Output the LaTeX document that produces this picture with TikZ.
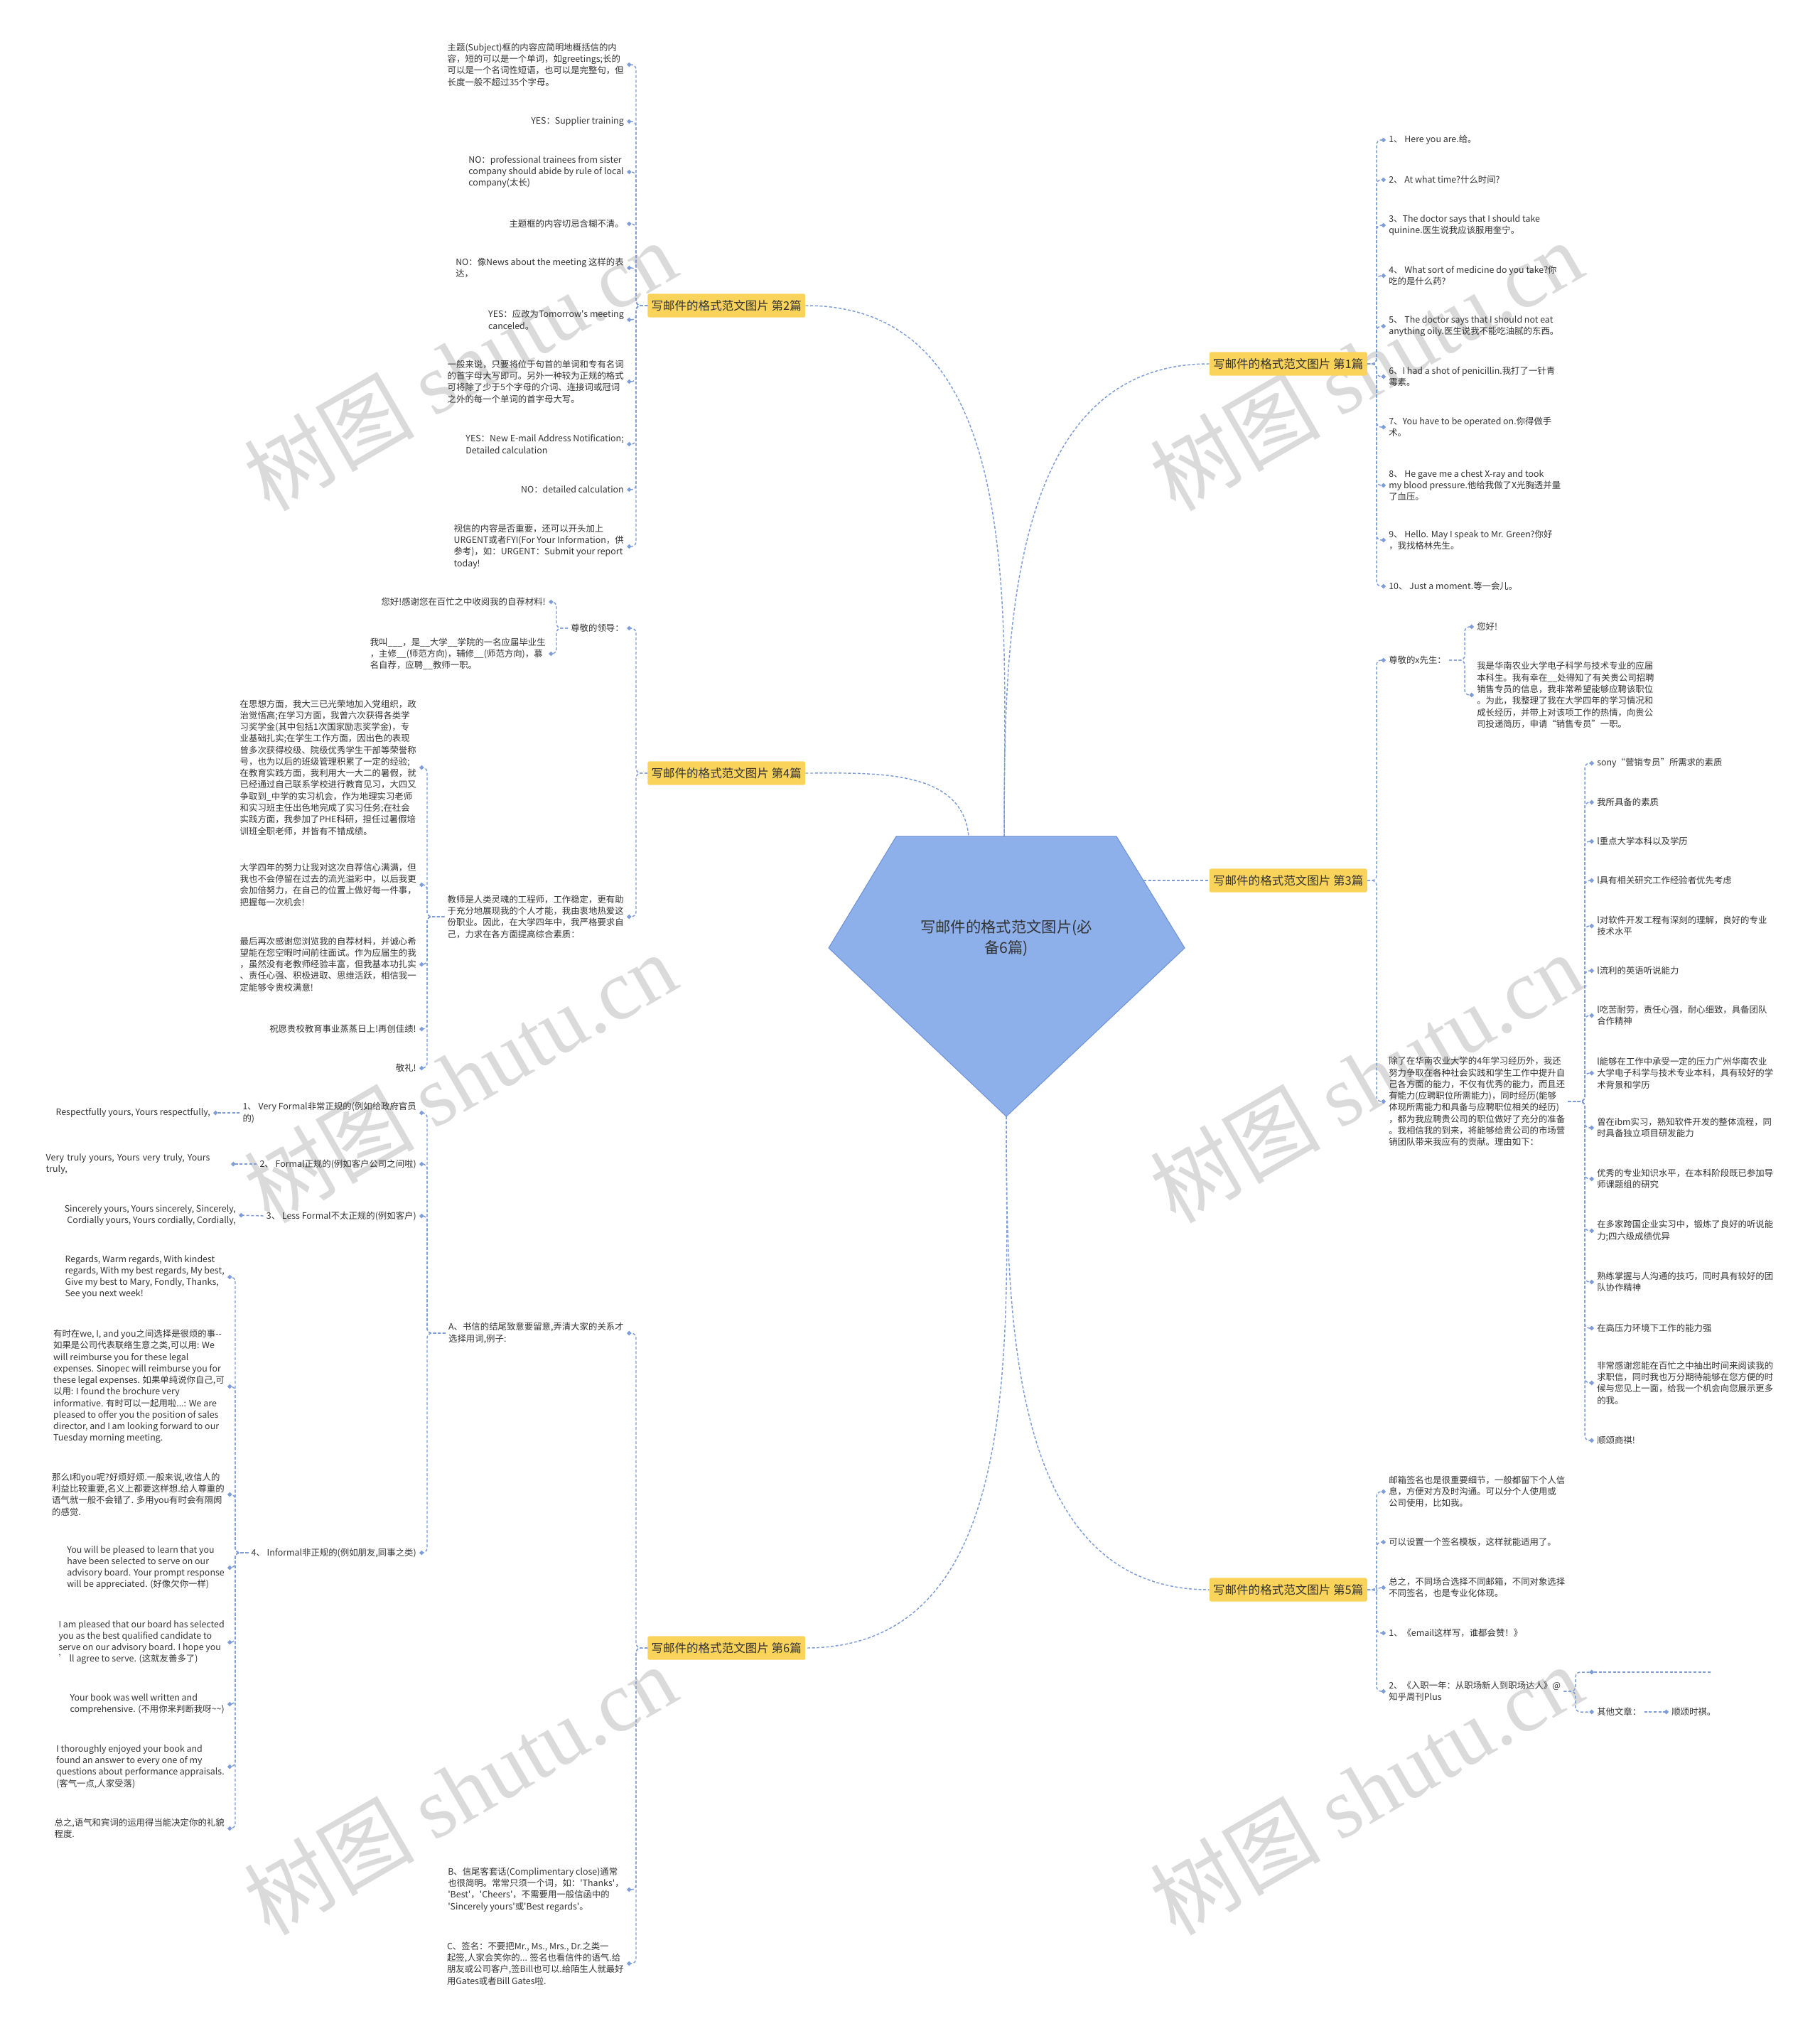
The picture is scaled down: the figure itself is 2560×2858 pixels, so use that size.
\documentclass[tikz,border=0pt]{standalone}
\usepackage{fontspec}
\setmainfont{Noto Sans CJK SC}
\newfontfamily\wmfont{Liberation Serif}
\usetikzlibrary{arrows.meta}
\definecolor{LinkBlue}{HTML}{7E9DD8}
\definecolor{SoftYellow}{HTML}{FAD35B}
\definecolor{CoreBlue}{HTML}{8EB0EA}
\definecolor{CoreEdge}{HTML}{6F92D8}
\definecolor{InkGray}{HTML}{333333}
\definecolor{MarkGray}{HTML}{DADADA}

\begin{document}
\begin{tikzpicture}[x=0.75pt,y=-0.75pt,
    leaf/.style={font=\fontsize{9.3}{12.2}\selectfont,text=InkGray,align=left,inner sep=3pt},
    topic/.style={fill=SoftYellow,rounded corners=2pt,text=InkGray,font=\fontsize{12.4}{14}\selectfont,minimum height=25pt,inner xsep=4pt},
    trunk/.style={draw=LinkBlue,line width=1.1pt,dash pattern=on 3pt off 2pt},
    link/.style={trunk,rounded corners=5pt,-{Turned Square[length=5pt,width=5pt]}},
    wmark/.style={text=MarkGray,rotate=30,font=\fontsize{90}{90}\selectfont}]
  \path[fill=white] (0,0) rectangle (2560,2858);
  % watermarks
  \foreach \wx/\wy [count=\i] in {647/514,1922/514,647/1516,1922/1516,647/2518,1922/2518}
    \node[wmark] (wm\i) at (\wx,\wy) {树图 {\wmfont shutu.cn}};

  % centre
  \coordinate (pt) at (1413,1177);
  \coordinate (ptl) at (1363,1177);
  \coordinate (pb) at (1416,1571);
  \coordinate (pr) at (1609,1239);

  \node[topic,anchor=west] (b2) at (911,430) {写邮件的格式范文图片 第2篇};
  \node[topic,anchor=west] (b4) at (911,1088) {写邮件的格式范文图片 第4篇};
  \node[topic,anchor=west] (b6) at (911,2319) {写邮件的格式范文图片 第6篇};
  \node[topic,anchor=east] (b1) at (1924,512) {写邮件的格式范文图片 第1篇};
  \node[topic,anchor=east] (b3) at (1924,1239) {写邮件的格式范文图片 第3篇};
  \node[topic,anchor=east] (b5) at (1924,2237) {写邮件的格式范文图片 第5篇};

  \draw[trunk] (b2.east) to[out=0,in=90] (pt);
  \draw[trunk] (b4.east) to[out=0,in=95] (ptl);
  \draw[trunk] (b1.west) to[out=180,in=90] (pt);
  \draw[trunk] (pr) -- (b3.west);
  \draw[trunk] (pb) to[out=-90,in=180] (b5.west);
  \draw[trunk] (pb) to[out=-90,in=0] (b6.east);

  \draw[fill=CoreBlue,draw=CoreEdge,line width=0.8pt] (1261,1177) -- (1571,1177) -- (1667,1334) -- (1416,1571) -- (1166,1334) -- cycle;
  \node[font=\fontsize{16}{22}\selectfont,text=InkGray,align=center] (c) at (1416,1320) {写邮件的格式范文图片(必\\备6篇)};

  % 第2篇
  \coordinate (k2) at (895,430);
  \node[leaf,anchor=east] (l21) at (882,91) {主题(Subject)框的内容应简明地概括信的内\\容，短的可以是一个单词，如greetings;长的\\可以是一个名词性短语，也可以是完整句，但\\长度一般不超过35个字母。};
  \node[leaf,anchor=east] (l22) at (882,171) {YES：Supplier training};
  \node[leaf,anchor=east] (l23) at (882,242) {NO：professional trainees from sister\\company should abide by rule of local\\company(太长)};
  \node[leaf,anchor=east] (l24) at (882,315) {主题框的内容切忌含糊不清。};
  \node[leaf,anchor=east] (l25) at (882,377) {NO：像News about the meeting 这样的表\\达，};
  \node[leaf,anchor=east] (l26) at (882,450) {YES：应改为Tomorrow\textquotesingle s meeting\\canceled。};
  \node[leaf,anchor=east] (l27) at (882,537) {一般来说，只要将位于句首的单词和专有名词\\的首字母大写即可。另外一种较为正规的格式\\可将除了少于5个字母的介词、连接词或冠词\\之外的每一个单词的首字母大写。};
  \node[leaf,anchor=east] (l28) at (882,625) {YES：New E-mail Address Notification;\\Detailed calculation};
  \node[leaf,anchor=east] (l29) at (882,689) {NO：detailed calculation};
  \node[leaf,anchor=east] (l2a) at (882,769) {视信的内容是否重要，还可以开头加上\\URGENT或者FYI(For Your Information，供\\参考)，如：URGENT：Submit your report\\today!};
  \foreach \n in {l21,l22,l23,l24,l25,l26,l27,l28,l29,l2a}
    \draw[link] (b2.west) -- (k2) |- (\n.east);

  % 第4篇
  \coordinate (k4) at (895,1088);
  \node[leaf,anchor=east] (l41) at (882,884) {尊敬的领导：};
  \node[leaf,anchor=east] (l42) at (882,1290) {教师是人类灵魂的工程师，工作稳定，更有助\\于充分地展现我的个人才能，我由衷地热爱这\\份职业。因此，在大学四年中，我严格要求自\\己，力求在各方面提高综合素质：};
  \draw[link] (b4.west) -- (k4) |- (l41.east);
  \draw[link] (b4.west) -- (k4) |- (l42.east);
  \coordinate (k41) at (783,884);
  \node[leaf,anchor=east] (l411) at (772,847) {您好!感谢您在百忙之中收阅我的自荐材料!};
  \node[leaf,anchor=east] (l412) at (772,920) {我叫\_\_\_，是\_\_大学\_\_学院的一名应届毕业生\\，主修\_\_(师范方向)，辅修\_\_(师范方向)，慕\\名自荐，应聘\_\_教师一职。};
  \draw[link] (l41.west) -- (k41) |- (l411.east);
  \draw[link] (l41.west) -- (k41) |- (l412.east);
  \coordinate (k42) at (601,1290);
  \node[leaf,anchor=east] (l421) at (590,1080) {在思想方面，我大三已光荣地加入党组织，政\\治觉悟高;在学习方面，我曾六次获得各类学\\习奖学金(其中包括1次国家励志奖学金)，专\\业基础扎实;在学生工作方面，因出色的表现\\曾多次获得校级、院级优秀学生干部等荣誉称\\号，也为以后的班级管理积累了一定的经验;\\在教育实践方面，我利用大一大二的暑假，就\\已经通过自己联系学校进行教育见习，大四又\\争取到\_中学的实习机会，作为地理实习老师\\和实习班主任出色地完成了实习任务;在社会\\实践方面，我参加了PHE科研，担任过暑假培\\训班全职老师，并皆有不错成绩。};
  \node[leaf,anchor=east] (l422) at (590,1245) {大学四年的努力让我对这次自荐信心满满，但\\我也不会停留在过去的流光溢彩中，以后我更\\会加倍努力，在自己的位置上做好每一件事，\\把握每一次机会!};
  \node[leaf,anchor=east] (l423) at (590,1357) {最后再次感谢您浏览我的自荐材料，并诚心希\\望能在您空暇时间前往面试。作为应届生的我\\，虽然没有老教师经验丰富，但我基本功扎实\\、责任心强、积极进取、思维活跃，相信我一\\定能够令贵校满意!};
  \node[leaf,anchor=east] (l424) at (590,1448) {祝愿贵校教育事业蒸蒸日上!再创佳绩!};
  \node[leaf,anchor=east] (l425) at (590,1503) {敬礼!};
  \foreach \n in {l421,l422,l423,l424,l425}
    \draw[link] (l42.west) -- (k42) |- (\n.east);

  % 第6篇
  \coordinate (k6) at (895,2319);
  \node[leaf,anchor=east] (l6a) at (882,1876) {A、书信的结尾致意要留意,弄清大家的关系才\\选择用词,例子:};
  \node[leaf,anchor=east] (l6b) at (882,2659) {B、信尾客套话(Complimentary close)通常\\也很简明。常常只须一个词，如：\textquotesingle Thanks\textquotesingle，\\\textquotesingle Best\textquotesingle，\textquotesingle Cheers\textquotesingle，不需要用一般信函中的\\\textquotesingle Sincerely yours\textquotesingle 或\textquotesingle Best regards\textquotesingle。};
  \node[leaf,anchor=east] (l6c) at (882,2763) {C、签名：不要把Mr., Ms., Mrs., Dr.之类一\\起签,人家会笑你的... 签名也看信件的语气.给\\朋友或公司客户,签Bill也可以.给陌生人就最好\\用Gates或者Bill Gates啦.};
  \foreach \n in {l6a,l6b,l6c}
    \draw[link] (b6.west) -- (k6) |- (\n.east);
  \coordinate (k6a) at (601,1876);
  \node[leaf,anchor=east] (l6a1) at (590,1566) {1、 Very Formal非常正规的(例如给政府官员\\的)};
  \node[leaf,anchor=east] (l6a2) at (590,1638) {2、 Formal正规的(例如客户公司之间啦)};
  \node[leaf,anchor=east] (l6a3) at (590,1711) {3、 Less Formal不太正规的(例如客户)};
  \node[leaf,anchor=east] (l6a4) at (590,2185) {4、 Informal非正规的(例如朋友,同事之类)};
  \foreach \n in {l6a1,l6a2,l6a3,l6a4}
    \draw[link] (l6a.west) -- (k6a) |- (\n.east);
  \node[leaf,anchor=east] (l6a1x) at (300,1566) {Respectfully yours, Yours respectfully,};
  \node[leaf,anchor=east,text width=192pt] (l6a2x) at (325,1638) {Very truly yours, Yours very truly, Yours\\truly,};
  \node[leaf,anchor=east,align=right] (l6a3x) at (336,1710) {Sincerely yours, Yours sincerely, Sincerely,\\Cordially yours, Yours cordially, Cordially,};
  \draw[link] (l6a1.west) -- (l6a1x.east);
  \draw[link] (l6a2.west) -- (l6a2x.east);
  \draw[link] (l6a3.west) -- (l6a3x.east);
  \coordinate (k6a4) at (331,2185);
  \node[leaf,anchor=east] (l6a41) at (320,1797) {Regards, Warm regards, With kindest\\regards, With my best regards, My best,\\Give my best to Mary, Fondly, Thanks,\\See you next week!};
  \node[leaf,anchor=east] (l6a42) at (320,1951) {有时在we, I, and you之间选择是很烦的事-{}-\\如果是公司代表联络生意之类,可以用: We\\will reimburse you for these legal\\expenses. Sinopec will reimburse you for\\these legal expenses. 如果单纯说你自己,可\\以用: I found the brochure very\\informative. 有时可以一起用啦...: We are\\pleased to offer you the position of sales\\director, and I am looking forward to our\\Tuesday morning meeting.};
  \node[leaf,anchor=east] (l6a43) at (320,2103) {那么I和you呢?好烦好烦.一般来说,收信人的\\利益比较重要,名义上都要这样想.给人尊重的\\语气就一般不会错了. 多用you有时会有隔阂\\的感觉.};
  \node[leaf,anchor=east] (l6a44) at (320,2206) {You will be pleased to learn that you\\have been selected to serve on our\\advisory board. Your prompt response\\will be appreciated. (好像欠你一样)};
  \node[leaf,anchor=east] (l6a45) at (320,2311) {I am pleased that our board has selected\\you as the best qualified candidate to\\serve on our advisory board. I hope you\\’ ll agree to serve. (这就友善多了)};
  \node[leaf,anchor=east] (l6a46) at (320,2398) {Your book was well written and\\comprehensive. (不用你来判断我呀\textasciitilde\textasciitilde)};
  \node[leaf,anchor=east] (l6a47) at (320,2486) {I thoroughly enjoyed your book and\\found an answer to every one of my\\questions about performance appraisals.\\(客气一点,人家受落)};
  \node[leaf,anchor=east] (l6a48) at (320,2573) {总之,语气和宾词的运用得当能决定你的礼貌\\程度.};
  \foreach \n in {l6a41,l6a42,l6a43,l6a44,l6a45,l6a46,l6a47,l6a48}
    \draw[link] (l6a4.west) -- (k6a4) |- (\n.east);

  % 第1篇
  \coordinate (k1) at (1937,512);
  \node[leaf,anchor=west] (r11) at (1950,197) {1、 Here you are.给。};
  \node[leaf,anchor=west] (r12) at (1950,253) {2、 At what time?什么时间?};
  \node[leaf,anchor=west] (r13) at (1950,317) {3、The doctor says that I should take\\quinine.医生说我应该服用奎宁。};
  \node[leaf,anchor=west] (r14) at (1950,388) {4、 What sort of medicine do you take?你\\吃的是什么药?};
  \node[leaf,anchor=west] (r15) at (1950,459) {5、 The doctor says that I should not eat\\anything oily.医生说我不能吃油腻的东西。};
  \node[leaf,anchor=west] (r16) at (1950,530) {6、I had a shot of penicillin.我打了一针青\\霉素。};
  \node[leaf,anchor=west] (r17) at (1950,601) {7、You have to be operated on.你得做手\\术。};
  \node[leaf,anchor=west] (r18) at (1950,683) {8、 He gave me a chest X-ray and took\\my blood pressure.他给我做了X光胸透并量\\了血压。};
  \node[leaf,anchor=west] (r19) at (1950,760) {9、 Hello. May I speak to Mr. Green?你好\\，我找格林先生。};
  \node[leaf,anchor=west] (r1a) at (1950,825) {10、 Just a moment.等一会儿。};
  \foreach \n in {r11,r12,r13,r14,r15,r16,r17,r18,r19,r1a}
    \draw[link] (b1.east) -- (k1) |- (\n.west);

  % 第3篇
  \coordinate (k3) at (1937,1239);
  \node[leaf,anchor=west] (r31) at (1950,929) {尊敬的x先生：};
  \node[leaf,anchor=west] (r32) at (1950,1550) {除了在华南农业大学的4年学习经历外，我还\\努力争取在各种社会实践和学生工作中提升自\\己各方面的能力，不仅有优秀的能力，而且还\\有能力(应聘职位所需能力)，同时经历(能够\\体现所需能力和具备与应聘职位相关的经历)\\，都为我应聘贵公司的职位做好了充分的准备\\。我相信我的到来，将能够给贵公司的市场营\\销团队带来我应有的贡献。理由如下：};
  \draw[link] (b3.east) -- (k3) |- (r31.west);
  \draw[link] (b3.east) -- (k3) |- (r32.west);
  \coordinate (k31) at (2061,929);
  \node[leaf,anchor=west] (r311) at (2074,882) {您好!};
  \node[leaf,anchor=west] (r312) at (2074,978) {我是华南农业大学电子科学与技术专业的应届\\本科生。我有幸在\_\_处得知了有关贵公司招聘\\销售专员的信息，我非常希望能够应聘该职位\\。为此，我整理了我在大学四年的学习情况和\\成长经历，并带上对该项工作的热情，向贵公\\司投递简历，申请“销售专员”一职。};
  \draw[link] (r31.east) -- (k31) |- (r311.west);
  \draw[link] (r31.east) -- (k31) |- (r312.west);
  \coordinate (k32) at (2230,1550);
  \node[leaf,anchor=west] (r321) at (2243,1074) {sony“营销专员”所需求的素质};
  \node[leaf,anchor=west] (r322) at (2243,1129) {我所具备的素质};
  \node[leaf,anchor=west] (r323) at (2243,1184) {l重点大学本科以及学历};
  \node[leaf,anchor=west] (r324) at (2243,1239) {l具有相关研究工作经验者优先考虑};
  \node[leaf,anchor=west] (r325) at (2243,1303) {l对软件开发工程有深刻的理解，良好的专业\\技术水平};
  \node[leaf,anchor=west] (r326) at (2243,1366) {l流利的英语听说能力};
  \node[leaf,anchor=west] (r327) at (2243,1429) {l吃苦耐劳，责任心强，耐心细致，具备团队\\合作精神};
  \node[leaf,anchor=west] (r328) at (2243,1510) {l能够在工作中承受一定的压力广州华南农业\\大学电子科学与技术专业本科，具有较好的学\\术背景和学历};
  \node[leaf,anchor=west] (r329) at (2243,1587) {曾在ibm实习，熟知软件开发的整体流程，同\\时具备独立项目研发能力};
  \node[leaf,anchor=west] (r32a) at (2243,1659) {优秀的专业知识水平，在本科阶段既已参加导\\师课题组的研究};
  \node[leaf,anchor=west] (r32b) at (2243,1732) {在多家跨国企业实习中，锻炼了良好的听说能\\力;四六级成绩优异};
  \node[leaf,anchor=west] (r32c) at (2243,1804) {熟练掌握与人沟通的技巧，同时具有较好的团\\队协作精神};
  \node[leaf,anchor=west] (r32d) at (2243,1869) {在高压力环境下工作的能力强};
  \node[leaf,anchor=west] (r32e) at (2243,1946) {非常感谢您能在百忙之中抽出时间来阅读我的\\求职信，同时我也万分期待能够在您方便的时\\候与您见上一面，给我一个机会向您展示更多\\的我。};
  \node[leaf,anchor=west] (r32f) at (2243,2027) {顺颂商祺!};
  \foreach \n in {r321,r322,r323,r324,r325,r326,r327,r328,r329,r32a,r32b,r32c,r32d,r32e,r32f}
    \draw[link] (r32.east) -- (k32) |- (\n.west);

  % 第5篇
  \coordinate (k5) at (1937,2237);
  \node[leaf,anchor=west] (r51) at (1950,2099) {邮箱签名也是很重要细节，一般都留下个人信\\息，方便对方及时沟通。可以分个人使用或\\公司使用，比如我。};
  \node[leaf,anchor=west] (r52) at (1950,2170) {可以设置一个签名模板，这样就能适用了。};
  \node[leaf,anchor=west] (r53) at (1950,2234) {总之，不同场合选择不同邮箱，不同对象选择\\不同签名，也是专业化体现。};
  \node[leaf,anchor=west] (r54) at (1950,2298) {1、《email这样写，谁都会赞！》};
  \node[leaf,anchor=west] (r55) at (1950,2380) {2、《入职一年：从职场新人到职场达人》@\\知乎周刊Plus};
  \foreach \n in {r51,r52,r53,r54,r55}
    \draw[link] (b5.east) -- (k5) |- (\n.west);
  \coordinate (k55) at (2217,2380);
  \node[leaf,anchor=west,minimum width=123pt] (r551) at (2243,2353) {};
  \node[leaf,anchor=west] (r552) at (2243,2409) {其他文章：};
  \node[leaf,anchor=west] (r553) at (2348,2409) {顺颂时祺。};
  \draw[trunk] (r551.west) -- (r551.east);
  \draw[link] (r55.east) -- (k55) |- (r551.west);
  \draw[link] (r55.east) -- (k55) |- (r552.west);
  \draw[link] (r552.east) -- (r553.west);
\end{tikzpicture}
\end{document}
